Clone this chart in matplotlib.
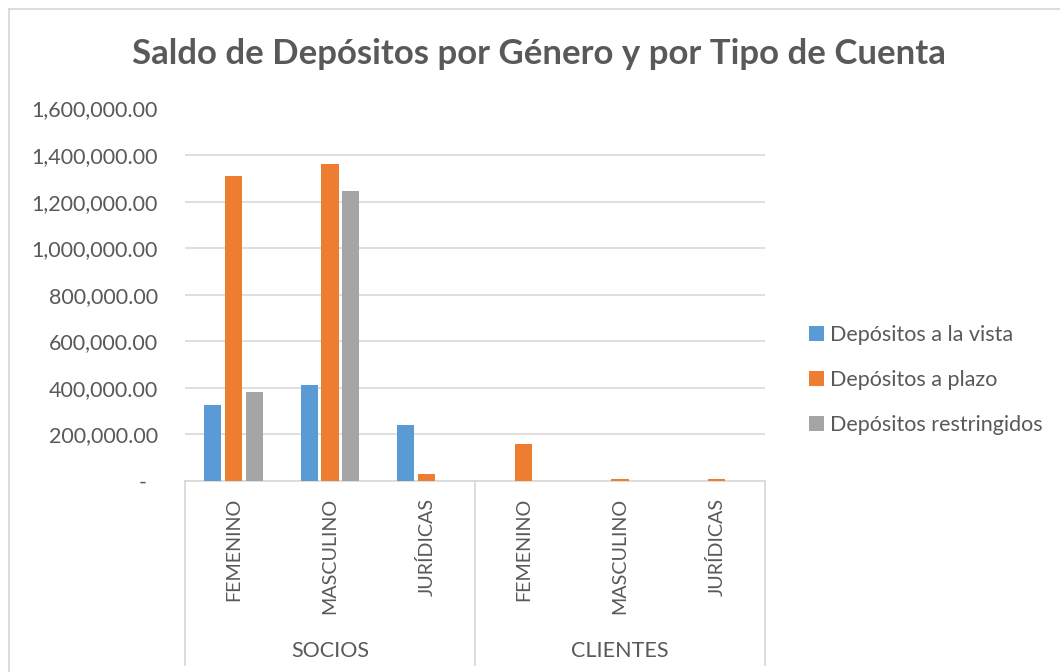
import matplotlib
matplotlib.use("Agg")
import matplotlib.pyplot as plt
from matplotlib.patches import Patch
from matplotlib.lines import Line2D
from matplotlib.ticker import FuncFormatter, FixedLocator
import matplotlib.transforms as mtransforms

plt.rcParams['font.family'] = ['Lato', 'DejaVu Sans']

# ---- data ----
title = "Saldo de Depósitos por Género y por Tipo de Cuenta"
outer_groups = ["SOCIOS", "CLIENTES"]
inner_categories = ["FEMENINO", "MASCULINO", "JURÍDICAS", "FEMENINO", "MASCULINO", "JURÍDICAS"]
series_names = ["Depósitos a la vista", "Depósitos a plazo", "Depósitos restringidos"]
vista = [325000, 414000, 241000, 0, 0, 0]
plazo = [1308700, 1362000, 31800, 158800, 10000, 7000]
restringidos = [382700, 1247000, 0, 0, 0, 0]
y_ticks = [0, 200000, 400000, 600000, 800000, 1000000, 1200000, 1400000, 1600000]

colors = ["#5B9BD5", "#ED7D31", "#A5A5A5"]
text_color = "#595959"
grid_color = "#D9D9D9"
fs = 15.5
fs_inner = 14.2

W, H = 1060, 672
fig = plt.figure(figsize=(W / 100, H / 100), dpi=100)
fig.patch.set_facecolor("white")

# chart border (left and top visible)
fig.add_artist(Line2D([9 / W, 9 / W], [0, 1 - 9 / H], transform=fig.transFigure, color=grid_color, lw=1.3))
fig.add_artist(Line2D([9 / W, 1], [1 - 9 / H, 1 - 9 / H], transform=fig.transFigure, color=grid_color, lw=1.3))

left, right, top, bottom = 185, 765, 108.5, 481
ax = fig.add_axes([left / W, (H - bottom) / H, (right - left) / W, (bottom - top) / H])

n = len(inner_categories)
xs = list(range(n))
bw = 0.176
off = 0.215
for k, (vals, c, name) in enumerate(zip([vista, plazo, restringidos], colors, series_names)):
    pos = [x + (k - 1) * off for x in xs]
    ax.bar(pos, vals, width=bw, color=c, label=name, zorder=3)

ax.set_xlim(-0.5, n - 0.5)
ax.set_ylim(0, y_ticks[-1])
ax.yaxis.set_major_locator(FixedLocator(y_ticks))
ax.yaxis.set_major_formatter(FuncFormatter(lambda v, p: "-  " if v == 0 else f"{v:,.2f}"))
ax.grid(axis="y", color=grid_color, lw=1.2, zorder=0)
for s in ["top", "right", "left"]:
    ax.spines[s].set_visible(False)
ax.spines["bottom"].set_color(grid_color)
ax.spines["bottom"].set_linewidth(1.2)
ax.tick_params(axis="y", length=0, pad=19.4, labelsize=fs, labelcolor=text_color)
ax.set_xticks([])

trans = mtransforms.blended_transform_factory(ax.transData, ax.transAxes)
sep_bottom = (bottom - 665) / (bottom - top)
for xb in [-0.5, 2.5, 5.5]:
    ax.add_line(Line2D([xb, xb], [0, sep_bottom], transform=trans, color=grid_color, lw=1.3, clip_on=False))

inner_top = (bottom - 498) / (bottom - top)
for x, lab in zip(xs, inner_categories):
    ax.text(x, inner_top, lab, transform=trans, rotation=90, ha="center", va="top",
            fontsize=fs_inner, color=text_color)

outer_y = (bottom - 651) / (bottom - top)
for g, lab in enumerate(outer_groups):
    ax.text(g * 3 + 1, outer_y, lab, transform=trans, ha="center", va="center",
            fontsize=fs, color=text_color)

fig.text(539 / W, 1 - 54 / H, title, ha="center", va="center", fontsize=25,
         fontweight="bold", color=text_color)

handles = [Patch(facecolor=c, edgecolor="none") for c in colors]
fig.legend(handles, series_names, loc="center left", bbox_to_anchor=(798 / W, 1 - 380 / H),
           frameon=False, fontsize=fs, labelcolor=text_color, handlelength=0.7,
           handleheight=0.7, handletextpad=0.3, labelspacing=1.15, borderpad=0)

fig.savefig("out.png", dpi=100)
